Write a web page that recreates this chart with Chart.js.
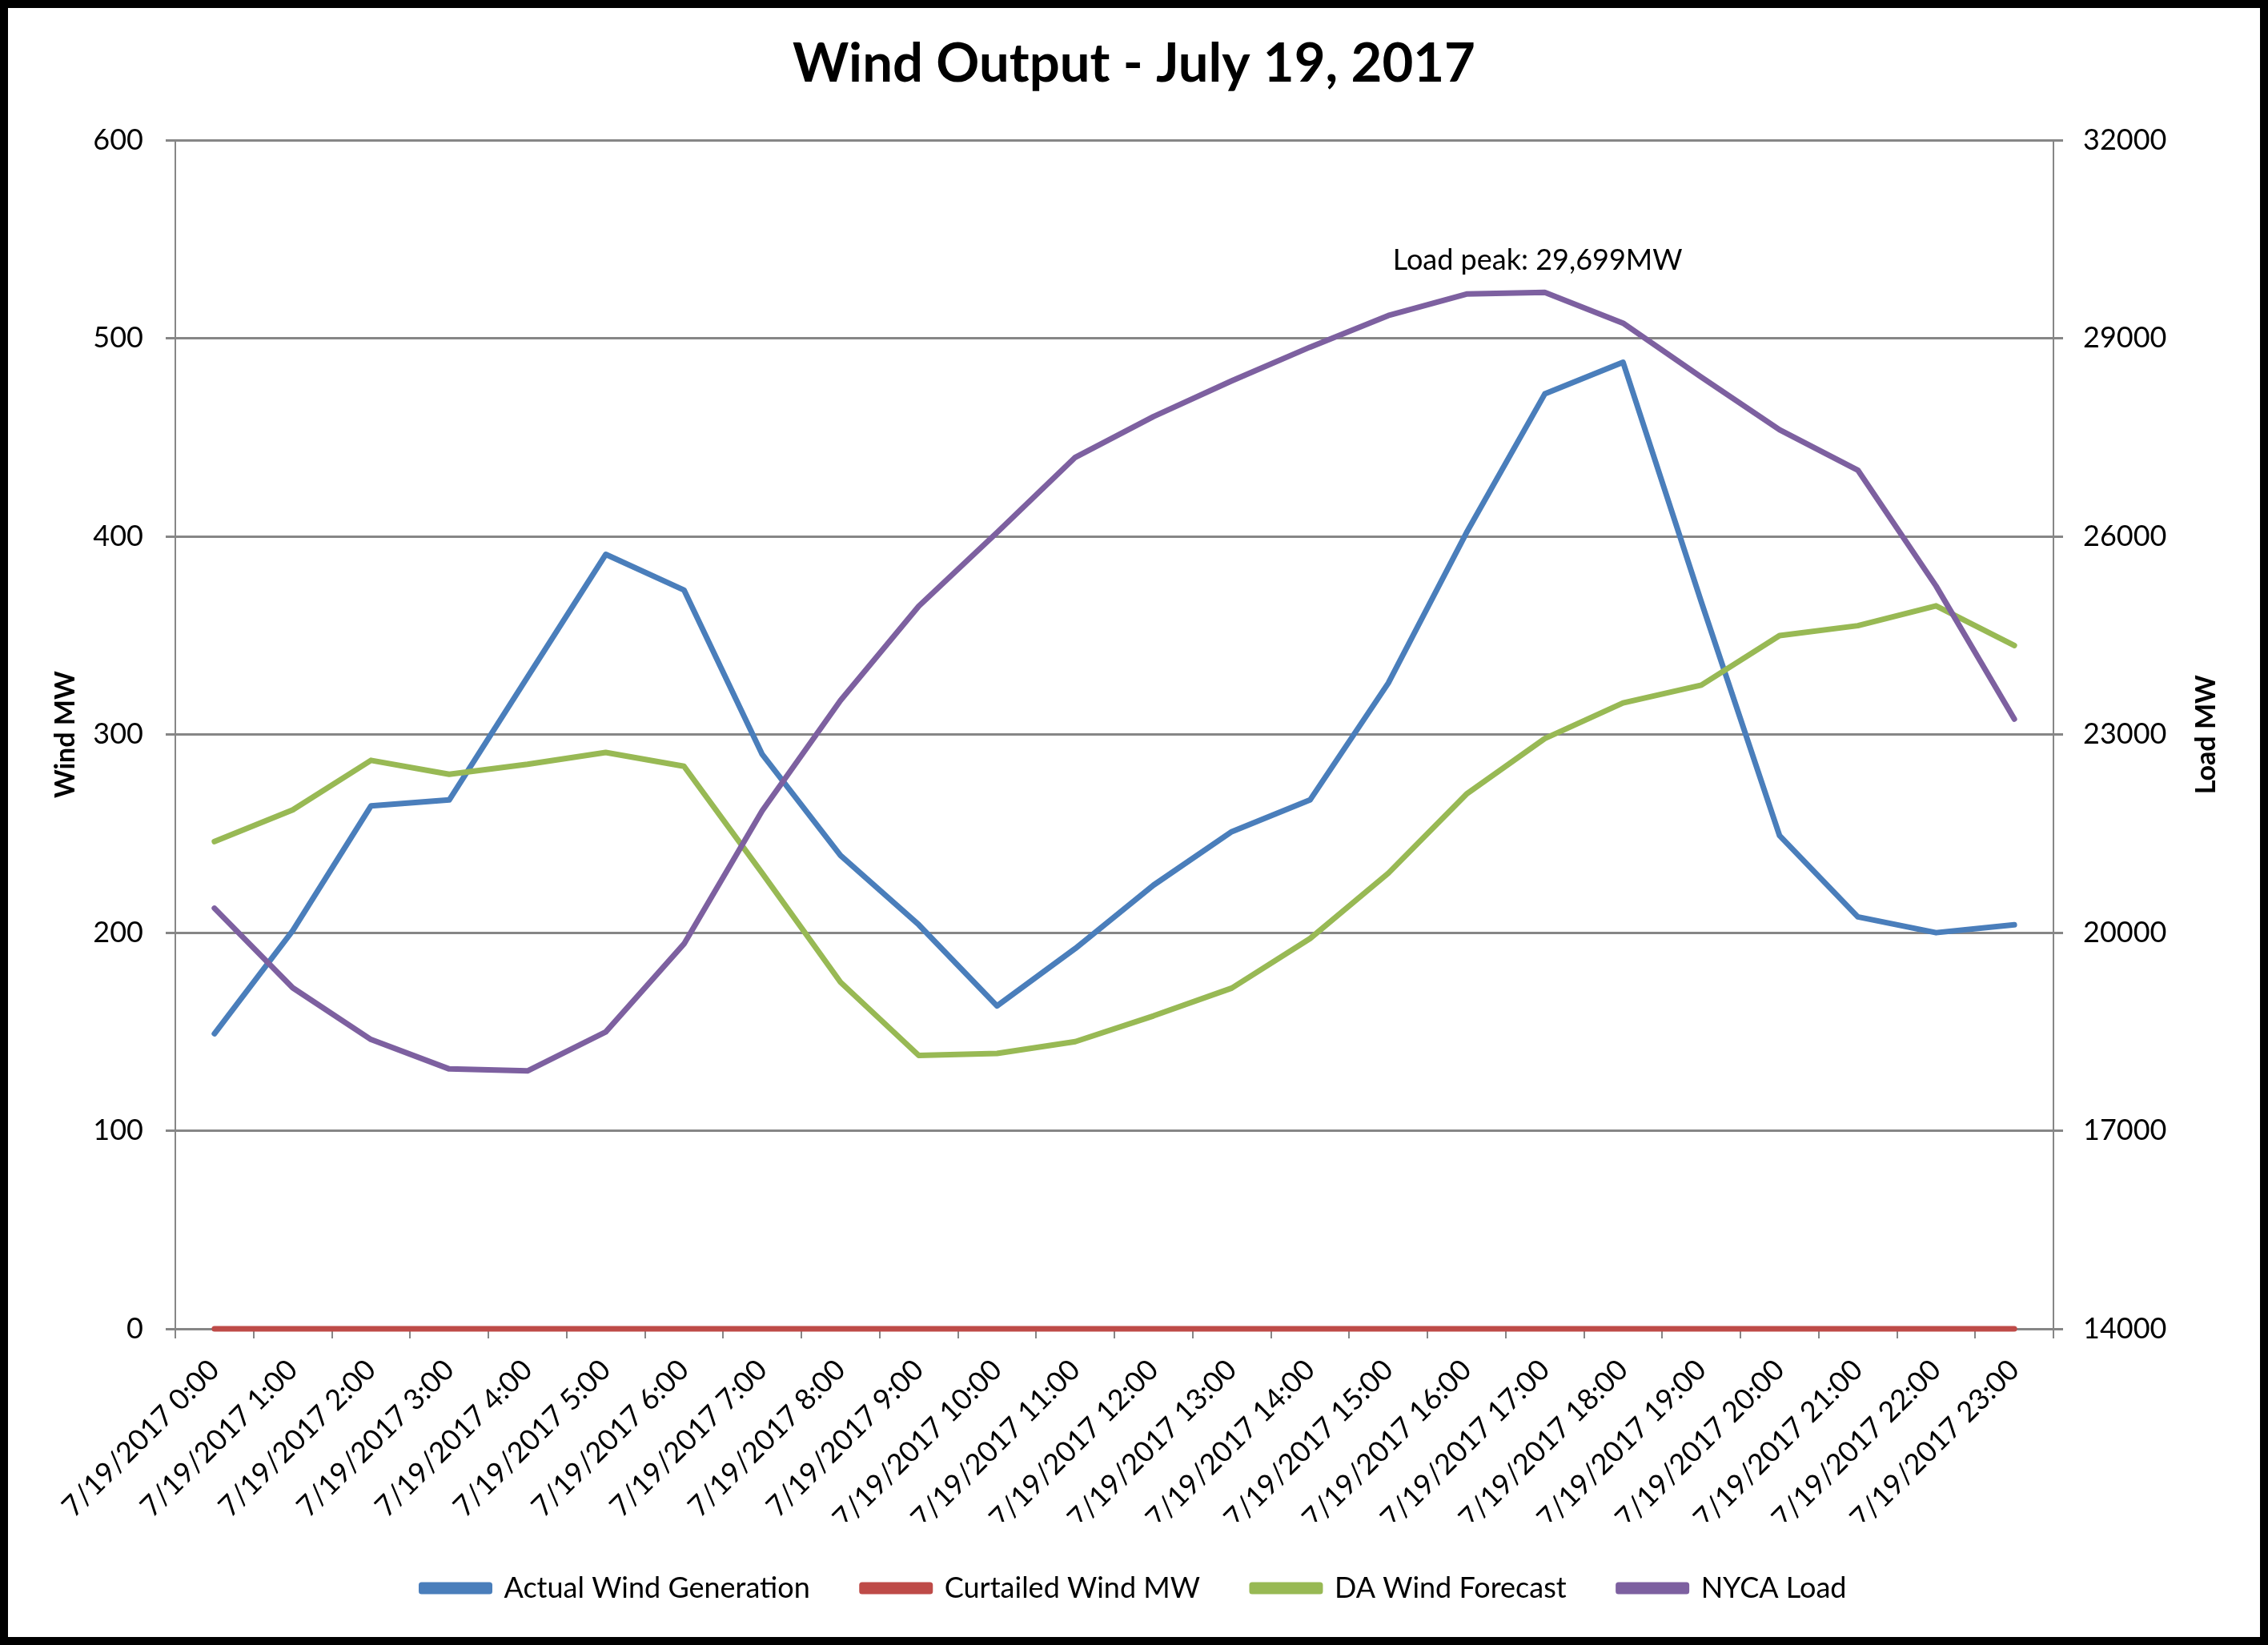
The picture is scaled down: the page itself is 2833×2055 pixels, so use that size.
<!DOCTYPE html>
<html>
<head>
<meta charset="utf-8">
<script src="https://cdn.jsdelivr.net/npm/chart.js@4/dist/chart.umd.min.js"></script>
<style>
  html, body { margin: 0; padding: 0; background: #fff; }
  #wrap { width: 2833px; height: 2055px; }
</style>
</head>
<body>
<div id="wrap"><canvas id="canvas"></canvas></div>
<script>
const hours = [
  '7/19/2017 0:00', '7/19/2017 1:00', '7/19/2017 2:00', '7/19/2017 3:00',
  '7/19/2017 4:00', '7/19/2017 5:00', '7/19/2017 6:00', '7/19/2017 7:00',
  '7/19/2017 8:00', '7/19/2017 9:00', '7/19/2017 10:00', '7/19/2017 11:00',
  '7/19/2017 12:00', '7/19/2017 13:00', '7/19/2017 14:00', '7/19/2017 15:00',
  '7/19/2017 16:00', '7/19/2017 17:00', '7/19/2017 18:00', '7/19/2017 19:00',
  '7/19/2017 20:00', '7/19/2017 21:00', '7/19/2017 22:00', '7/19/2017 23:00'
]

const actualWind = [149, 201, 264, 267, 329, 391, 373, 290, 239, 204, 163, 192,
  224, 251, 267, 326, 402, 472, 488, 367, 249, 208, 200, 204]
const curtailedWind = [0, 0, 0, 0, 0, 0, 0, 0, 0, 0, 0, 0,
  0, 0, 0, 0, 0, 0, 0, 0, 0, 0, 0, 0]
const daForecast = [246, 262, 287, 280, 285, 291, 284, 230, 175, 138, 139, 145,
  158, 172, 197, 230, 270, 298, 316, 325, 350, 355, 365, 345]
const nycaLoad = [20370, 19165, 18382, 17936, 17907, 18497, 19830, 21847, 23518, 24945, 26060, 27200,
  27818, 28359, 28869, 29348, 29673, 29699, 29232, 28414, 27617, 27006, 25250, 23236]

const windTicks = { min: 0, max: 600, step: 100 }
const loadTicks = { min: 14000, max: 32000, step: 3000 }

const peakText = 'Load peak: 29,699MW'
const gridGray = '#868686'

Chart.defaults.font.family = 'Lato, "Liberation Sans", sans-serif'
Chart.defaults.color = '#000'

// white page, black frame, right axis title and the peak note
const decorations = {
  id: 'decorations',
  beforeDraw(chart) {
    const ctx = chart.ctx
    ctx.save()
    ctx.fillStyle = '#fff'
    ctx.fillRect(0, 0, chart.width, chart.height)
    ctx.restore()
  },
  afterDraw(chart) {
    const ctx = chart.ctx
    const area = chart.chartArea
    const x = chart.scales.x
    const y1 = chart.scales.y1
    ctx.save()
    ctx.strokeStyle = '#000'
    ctx.lineWidth = 10
    ctx.strokeRect(5, 5, chart.width - 10, chart.height - 10)

    // "Load MW" reads bottom to top like the left one
    ctx.font = 'bold 34px Lato'
    ctx.fillStyle = '#000'
    ctx.textAlign = 'center'
    ctx.textBaseline = 'middle'
    ctx.translate(y1.right - 67, (area.top + area.bottom) / 2)
    ctx.rotate(-Math.PI / 2)
    ctx.fillText('Load MW', 0, 0)
    ctx.restore()

    const peakIdx = nycaLoad.indexOf(Math.max(...nycaLoad))
    ctx.save()
    ctx.font = '36px Lato'
    ctx.fillStyle = '#000'
    ctx.textAlign = 'center'
    ctx.textBaseline = 'middle'
    ctx.fillText(peakText, x.getPixelForValue(peakIdx) - 9, y1.getPixelForValue(nycaLoad[peakIdx]) - 40)
    ctx.restore()
  }
}

const data = {
  labels: hours,
  datasets: [
    {
      label: 'Actual Wind Generation',
      data: actualWind,
      borderColor: '#4A7EBB',
      backgroundColor: '#4A7EBB',
      yAxisID: 'y',
      order: 3,
    },
    {
      label: 'Curtailed Wind MW',
      data: curtailedWind,
      borderColor: '#BE4B48',
      backgroundColor: '#BE4B48',
      yAxisID: 'y',
      order: 2,
      clip: false,
    },
    {
      label: 'DA Wind Forecast',
      data: daForecast,
      borderColor: '#98B954',
      backgroundColor: '#98B954',
      yAxisID: 'y',
      order: 1,
    },
    {
      label: 'NYCA Load',
      data: nycaLoad,
      borderColor: '#7D60A0',
      backgroundColor: '#7D60A0',
      yAxisID: 'y1',
      order: 0,
    },
  ],
}

const config = {
  type: 'line',
  data: data,
  plugins: [decorations],
  options: {
    responsive: false,
    animation: false,
    events: [],
    layout: { padding: { top: 8, left: 10, right: 10, bottom: 43 } },
    elements: {
      line: { borderWidth: 7, tension: 0, borderCapStyle: 'round', borderJoinStyle: 'round' },
      point: { radius: 0 },
    },
    scales: {
      x: {
        offset: true,
        grid: { offset: true, drawOnChartArea: false, drawTicks: true, tickLength: 12, color: gridGray, lineWidth: 2 },
        border: { display: true, color: gridGray, width: 2 },
        ticks: { autoSkip: false, minRotation: 45, maxRotation: 45, padding: 18, font: { size: 36 } },
        afterFit(scale) { scale.height = 241 },
      },
      y: {
        position: 'left',
        min: windTicks.min,
        max: windTicks.max,
        ticks: { stepSize: windTicks.step, padding: 28, font: { size: 36 } },
        grid: { color: gridGray, lineWidth: 3, tickLength: 12 },
        border: { display: true, color: gridGray, width: 2 },
        title: { display: true, text: 'Wind MW', font: { size: 34, weight: 'bold' }, padding: { top: 52, bottom: 0 } },
        afterFit(scale) { scale.width = 209 },
      },
      y1: {
        position: 'right',
        min: loadTicks.min,
        max: loadTicks.max,
        ticks: { stepSize: loadTicks.step, padding: 25, font: { size: 36 }, callback: (v) => String(v) },
        grid: { drawOnChartArea: false, color: gridGray, lineWidth: 3, tickLength: 12 },
        border: { display: true, color: gridGray, width: 2 },
        afterFit(scale) { scale.width = 258 },
      },
    },
    plugins: {
      title: {
        display: true,
        text: 'Wind Output - July 19, 2017',
        font: { size: 67, weight: 'bold' },
        color: '#000',
        padding: { top: 32, bottom: 55 },
      },
      legend: {
        position: 'bottom',
        labels: {
          boxWidth: 85,
          boxHeight: 8,
          padding: 65,
          font: { size: 36 },
          sort: (a, b) => a.datasetIndex - b.datasetIndex,
        },
      },
      tooltip: { enabled: false },
    },
  },
}

const canvas = document.getElementById('canvas')
canvas.width = 2833
canvas.height = 2055
const chart = new Chart(canvas, config)
</script>
</body>
</html>
